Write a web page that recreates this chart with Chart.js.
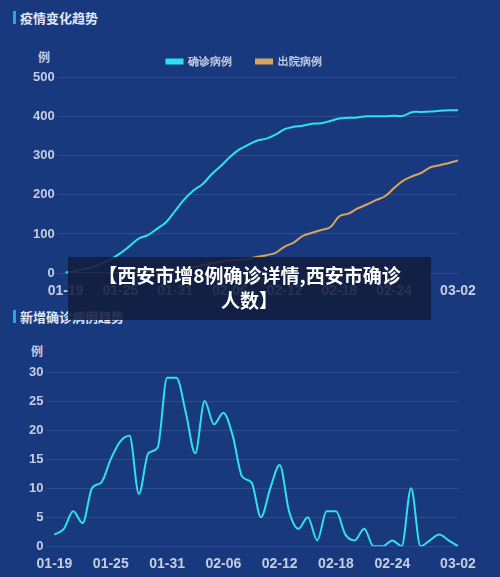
<!DOCTYPE html>
<html><head><meta charset="utf-8">
<script src="https://cdn.jsdelivr.net/npm/chart.js@4"></script>
<style>
body{margin:0;width:500px;height:577px;background:#19397f;position:relative;overflow:hidden;font-family:"Noto Sans CJK SC",sans-serif;}
.t{position:absolute;left:13px;color:#dfe6f5;font-size:13px;font-weight:bold;border-left:3px solid #2aa6e8;padding-left:4px;line-height:13px;}
.u{position:absolute;color:#c5cde3;font-size:12px;font-weight:bold;}
.c{position:absolute;left:0;width:500px;}
#ov{position:absolute;left:68px;top:257px;width:363px;height:63px;background:rgba(18,28,62,0.88);color:#fff;font-weight:bold;font-size:19px;text-align:center;line-height:25px;padding-top:5px;box-sizing:border-box;}
</style></head><body>
<div class="t" style="top:11px">疫情变化趋势</div>
<div class="u" style="left:38px;top:48px">例</div>
<div class="c" style="top:32px;height:270px"><canvas id="c1"></canvas></div>
<div class="t" style="top:310px">新增确诊病例趋势</div>
<div class="u" style="left:31px;top:342px">例</div>
<div class="c" style="top:356px;height:221px"><canvas id="c2"></canvas></div>
<div id="ov">【西安市增8例确诊详情,西安市确诊<br>人数】</div>
<script>
const dates=["01-19","01-20","01-21","01-22","01-23","01-24","01-25","01-26","01-27","01-28","01-29","01-30","01-31","02-01","02-02","02-03","02-04","02-05","02-06","02-07","02-08","02-09","02-10","02-11","02-12","02-13","02-14","02-15","02-16","02-17","02-18","02-19","02-20","02-21","02-22","02-23","02-24","02-25","02-26","02-27","02-28","02-29","03-01","03-02"];
const confirmed=[2,5,11,15,25,36,51,69,88,97,113,130,159,188,211,227,252,273,296,315,327,338,343,353,367,373,376,381,382,388,394,396,397,400,400,400,401,401,411,411,412,414,415,415];
const discharged=[0,0,0,0,0,0,1,2,3,3,5,6,9,12,15,20,25,29,33,34,36,42,46,52,68,78,95,103,110,117,145,152,165,175,186,196,217,236,247,256,270,275,281,287];
const daily=[2,3,6,4,10,11,15,18,19,9,16,17,29,29,23,16,25,21,23,19,12,11,5,10,14,6,3,5,1,6,6,2,1,3,0,0,1,0,10,0,1,2,1,0];
const tickC='#c5cde3', gridC='rgba(120,150,220,0.22)';
function xAxis(){return{grid:{display:false},border:{display:false},ticks:{color:tickC,font:{size:14,weight:'bold'},autoSkip:false,maxRotation:0,padding:2,
 callback:(v,i)=>(i===43||(i%6===0&&i<42))?dates[i]:''}};}
new Chart(document.getElementById('c1'),{type:'line',data:{labels:dates,datasets:[
 {label:'确诊病例',data:confirmed,borderColor:'#2fe0ee',backgroundColor:'#2fe0ee',borderWidth:2,pointRadius:0,tension:0.4},
 {label:'出院病例',data:discharged,borderColor:'#d8a45e',backgroundColor:'#d8a45e',borderWidth:2,pointRadius:0,tension:0.4}]},
 options:{responsive:true,maintainAspectRatio:false,animation:false,layout:{padding:{left:30,right:42,top:0}},
 plugins:{legend:{labels:{color:tickC,boxWidth:16,boxHeight:4,font:{size:11,weight:'bold'},padding:24}},tooltip:{enabled:false}},
 scales:{x:xAxis(),y:{min:0,max:500,ticks:{stepSize:100,color:tickC,font:{size:13,weight:'bold'}},grid:{color:gridC},border:{display:false}}}}});
new Chart(document.getElementById('c2'),{type:'line',data:{labels:dates,datasets:[
 {data:daily,borderColor:'#2fe0ee',borderWidth:2,pointRadius:0,cubicInterpolationMode:'monotone'}]},
 options:{responsive:true,maintainAspectRatio:false,animation:false,layout:{padding:{left:26,right:42,top:16,bottom:2}},
 plugins:{legend:{display:false},tooltip:{enabled:false}},
 scales:{x:xAxis(),y:{min:0,max:30,ticks:{stepSize:5,color:tickC,font:{size:13,weight:'bold'}},grid:{color:gridC},border:{display:false}}}}});
</script></body></html>
